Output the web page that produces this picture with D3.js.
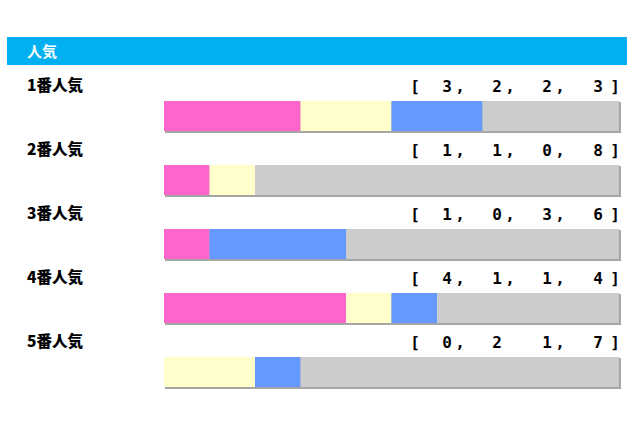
<!DOCTYPE html>
<html><head><meta charset="utf-8">
<script src="https://cdn.jsdelivr.net/npm/d3@7"></script>
<style>body{margin:0;background:#fff}</style>
</head><body>
<script>
const title = "人気";
const categories = ["1番人気","2番人気","3番人気","4番人気","5番人気"];
const first  = [3,1,1,4,0];
const second = [2,1,0,1,2];
const third  = [2,0,3,1,1];
const other  = [3,8,6,4,7];
const commaShown = [[true,true,true],[true,true,true],[true,true,true],[true,true,true],[true,false,true]];
const seriesColors = ["#FF66CC","#FFFFCC","#6699FF","#CCCCCC"];

const W=640,H=426;
const svg=d3.select("body").append("svg").attr("width",W).attr("height",H);
svg.append("rect").attr("x",7).attr("y",37).attr("width",620).attr("height",28).attr("fill","#00B0F0");
svg.append("text").attr("x",27).attr("y",57).attr("fill","#fff").attr("font-family","'Noto Sans CJK JP'")
  .attr("font-weight","bold").attr("font-size",15).text(title);

const x=d3.scaleLinear().domain([0,10]).range([164,619]);
const y=d3.scaleBand().domain(categories).range([68,388]);
const series=[first,second,third,other];

categories.forEach((c,i)=>{
  const y0=y(c);
  const g=svg.append("g");
  g.append("text").attr("x",27).attr("y",y0+23).attr("font-family","'Noto Sans CJK JP'")
    .attr("font-weight","900").attr("font-size",15.5).attr("fill","#000").text(c);
  const vals=series.map(s=>s[i]);
  const tf="'DejaVu Sans Mono', monospace";
  const ty=y0+24;
  const tg=g.append("g").attr("font-family",tf).attr("font-weight","bold").attr("font-size",16).attr("fill","#000");
  tg.append("text").attr("x",415).attr("y",ty).attr("text-anchor","middle").text("[");
  const cx=[447,497,547,598];
  vals.forEach((v,k)=>{
    tg.append("text").attr("x",cx[k]).attr("y",ty).attr("text-anchor","middle").text(v);
    if(k<3 && commaShown[i][k]) tg.append("text").attr("x",cx[k]+13).attr("y",ty).attr("text-anchor","middle").text(",");
  });
  tg.append("text").attr("x",615).attr("y",ty).attr("text-anchor","middle").text("]");
  const by=y0+33, bh=30;
  g.append("rect").attr("x",x(0)+1).attr("y",by+1).attr("width",x(10)-x(0)+1).attr("height",bh+1).attr("fill","#A6A6A6");
  let acc=0;
  vals.forEach((v,k)=>{
    if(v>0) g.append("rect").attr("x",x(acc)).attr("y",by).attr("width",x(acc+v)-x(acc)).attr("height",bh).attr("fill",seriesColors[k]);
    acc+=v;
  });
});
</script>
</body></html>
